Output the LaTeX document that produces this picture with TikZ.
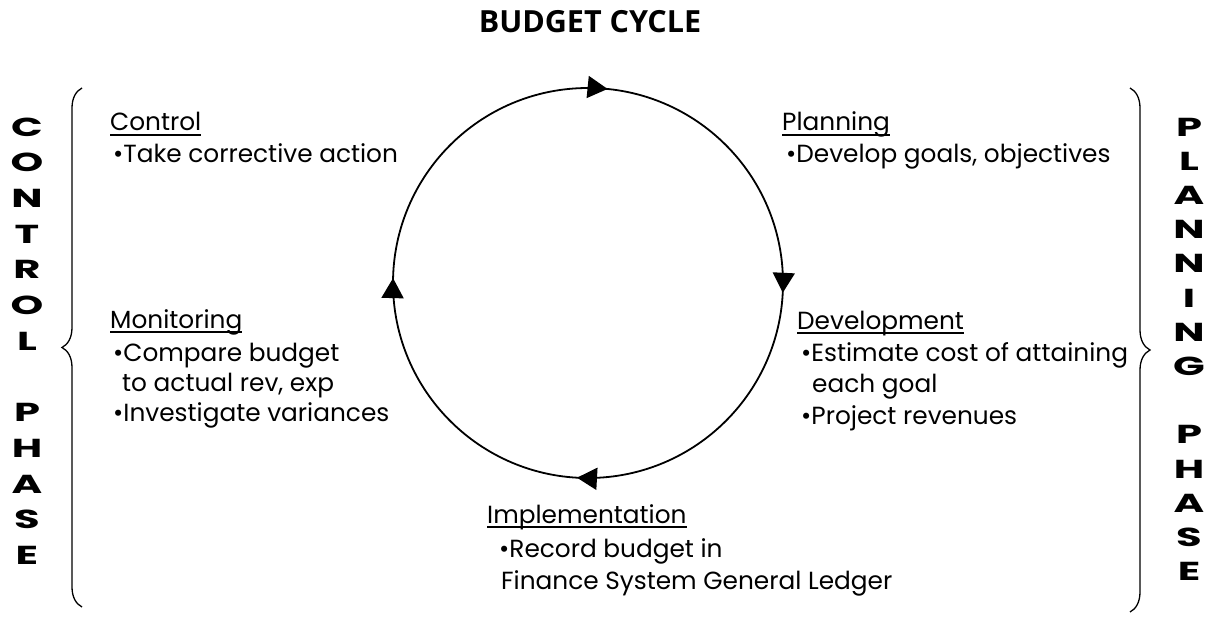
\documentclass[tikz,border=0pt]{standalone}
\usepackage{fontspec}
\setmainfont{Poppins}
\newfontfamily\headfont{Open Sans}
\usetikzlibrary{arrows.meta,decorations.markings,decorations.pathreplacing}
% body text size and helpers
\newcommand\bodysize{\fontsize{24.8}{28}\selectfont}
\newsavebox\ulbox
\newcommand\ulhead[1]{\sbox\ulbox{#1}\usebox\ulbox\llap{\rule[-5pt]{\wd\ulbox}{1.6pt}}}
\newcommand\wideletter[1]{\scalebox{1.6}[1]{#1}}
\begin{document}
\begin{tikzpicture}[x=1pt,y=-1pt,
  line/.style={anchor=base west, inner sep=0pt, font=\bodysize},
  phase/.style={inner sep=0pt, font=\fontsize{26}{26}\selectfont\bfseries},
  cyclearrow/.style={line width=1.8pt, postaction=decorate,
    decoration={markings,
      mark=at position 0.008 with {\arrow{Triangle[length=20pt,width=22pt]}},
      mark=at position 0.259 with {\arrow{Triangle[length=20pt,width=22pt]}},
      mark=at position 0.504 with {\arrow{Triangle[length=20pt,width=22pt]}},
      mark=at position 0.766 with {\arrow{Triangle[length=20pt,width=22pt]}}}},
  bracepath/.style={line width=1.3pt, decorate,
    decoration={brace, amplitude=20pt, aspect=0.5}}]
\useasboundingbox (0,0) rectangle (1216,623);

% title
\node[inner sep=0pt, anchor=base, font=\headfont\bfseries\fontsize{30.5}{30}\selectfont]
  (title) at (590,33) {BUDGET CYCLE};

% the cycle
\coordinate (cc) at (588,283);
\draw[cyclearrow] (cc) circle [radius=195];

% control side
\node[line] (ctrlhead) at (110,131) {\ulhead{Control}};
\node[line] (ctrl1) at (113,163) {•Take corrective action};

\node[line] (monhead) at (110,328) {\ulhead{Monitoring}};
\node[line] (mon1) at (113,361) {•Compare budget};
\node[line] (mon2) at (122,391) {to actual rev, exp};
\node[line] (mon3) at (113,421) {•Investigate variances};

% planning side
\node[line] (planhead) at (782,131) {\ulhead{Planning}};
\node[line] (plan1) at (786,163) {•Develop goals, objectives};

\node[line] (devhead) at (797,329) {\ulhead{Development}};
\node[line] (dev1) at (801,361) {•Estimate cost of attaining};
\node[line] (dev2) at (812,392) {each goal};
\node[line] (dev3) at (801,424) {•Project revenues};

% implementation
\node[line] (imphead) at (487,523) {\ulhead{Implementation}};
\node[line] (imp1) at (499,557) {•Record budget in};
\node[line] (imp2) at (501,589) {Finance System General Ledger};

% braces
\coordinate (lbb) at (82,607);
\coordinate (lbt) at (82,88);
\draw[bracepath] (lbb) -- (lbt);
\coordinate (rbt) at (1130,88);
\coordinate (rbb) at (1130,612);
\draw[bracepath] (rbt) -- (rbb);

% phase labels
\foreach \ch [count=\i from 0] in {C,O,N,T,R,O,L}
  \node[phase] (cl\i) at (27,127+35.7*\i) {\wideletter{\ch}};
\foreach \ch [count=\i from 8] in {P,H,A,S,E}
  \node[phase] (cl\i) at (27,127+35.7*\i) {\wideletter{\ch}};
\foreach \ch [count=\i from 0] in {P,L,A,N,N,I,N,G}
  \node[phase] (pl\i) at (1189,127+34.2*\i) {\wideletter{\ch}};
\foreach \ch [count=\i from 9] in {P,H,A,S,E}
  \node[phase] (pl\i) at (1189,127+34.2*\i) {\wideletter{\ch}};
\end{tikzpicture}
\end{document}
